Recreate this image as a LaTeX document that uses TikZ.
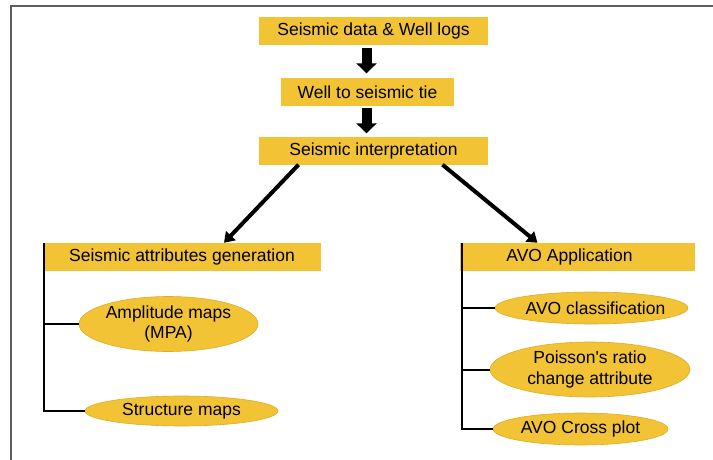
\documentclass[tikz,border=0pt]{standalone}
\usepackage{fontspec}
\setmainfont{Liberation Sans}
\usetikzlibrary{shapes.geometric, arrows.meta}

\definecolor{boxyellow}{RGB}{242,195,52}
\definecolor{boxedge}{RGB}{222,172,40}
\definecolor{framegray}{RGB}{95,95,95}

\tikzset{
  stepbox/.style={rectangle, fill=boxyellow, inner sep=0pt, minimum height=28pt,
    font=\fontsize{17.5}{20.5}\selectfont},
  leaf/.style={ellipse, fill=boxyellow, draw=boxedge, line width=0.6pt, inner sep=-12pt,
    align=center, font=\fontsize{17.5}{20.5}\selectfont},
  bigarrow/.style={line width=10pt, -{Triangle[width=20pt,length=10pt]}},
  diagarrow/.style={line width=4pt, -{Triangle[width=13pt,length=10pt]}},
  branch/.style={line width=2pt},
}

\begin{document}
\begin{tikzpicture}[x=1pt,y=-1pt]
\useasboundingbox (0,0) rectangle (713,460);
% frame
\draw[framegray, line width=1.5pt] (11,460) -- (11,6) -- (713,6);

% main chain
\node[stepbox, minimum width=229pt] (data) at (373.5,31) {Seismic data \& Well logs};
\node[stepbox, minimum width=173pt] (tie) at (367.5,92.5) {Well to seismic tie};
\node[stepbox, minimum width=229pt] (interp) at (373.5,150.5) {Seismic interpretation};
\draw[bigarrow, shorten <=3pt, shorten >=5pt] ([xshift=-7pt]data.south) -- ([xshift=-1pt]tie.north);
\draw[bigarrow, shorten <=1pt, shorten >=3pt] ([xshift=-1pt]tie.south) -- ([xshift=-7pt]interp.north);

% two branches
\node[stepbox, minimum width=278pt] (attr) at (182,257) {Seismic attributes generation};
\node[stepbox, minimum width=235pt] (avo) at (577.5,257) {AVO Application\hspace*{16pt}};
\draw[diagarrow] ([xshift=-75pt]interp.south) -- ([xshift=42pt]attr.north);
\draw[diagarrow] ([xshift=69pt]interp.south) -- ([xshift=-40pt]avo.north);

% seismic attributes
\node[leaf, minimum width=179pt, minimum height=55pt] (amp) at (168.5,324) {Amplitude maps\\(MPA)};
\node[leaf, minimum width=193pt, minimum height=30pt] (struct) at (181.5,411) {Structure maps};
\draw[branch] ([xshift=1pt]attr.north west) |- (amp.west);
\draw[branch] ([xshift=1pt]attr.north west) |- (struct.west);

% AVO
\node[leaf, minimum width=193pt, minimum height=32pt] (class) at (591.5,308) {\hspace*{8pt}AVO classification};
\node[leaf, minimum width=200pt, minimum height=55pt] (poisson) at (590,369.5) {Poisson\textquotesingle s ratio\\change attribute};
\node[leaf, minimum width=175pt, minimum height=32pt] (cross) at (580.5,429) {AVO Cross plot};
\draw[branch] ([xshift=2pt]avo.north west) |- (class.west);
\draw[branch] ([xshift=2pt]avo.north west) |- (poisson.west);
\draw[branch] ([xshift=2pt]avo.north west) |- (cross.west);
\end{tikzpicture}
\end{document}
